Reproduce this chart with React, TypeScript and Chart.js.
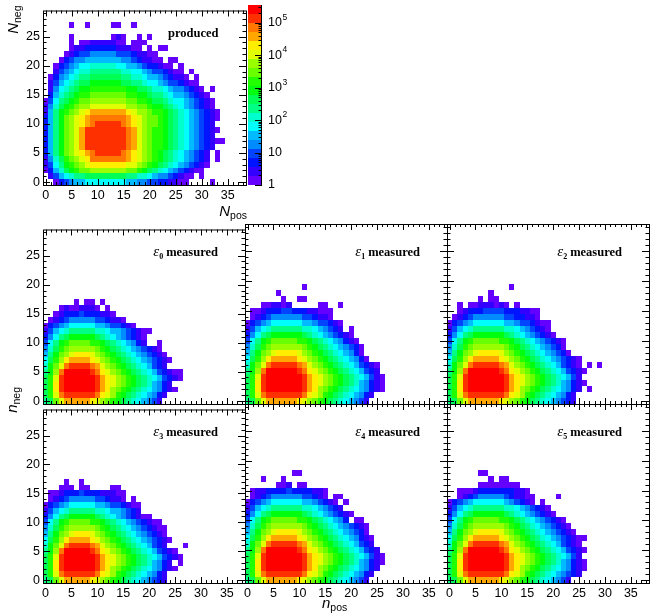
import React, { useEffect, useRef } from 'react';
import Chart from 'chart.js/auto';

// axis ticks
const xTickValues = [0, 5, 10, 15, 20, 25, 30, 35];
const yTickValues = [0, 5, 10, 15, 20, 25];
const paletteDecades = [1, 10, 100, 1000, 10000, 100000];

// top of the log colour axis (bottom is 1)
const producedZmax = 3.5e5;
const measuredZmax = 3.5e5;

// the 20 contour colours of ROOT's "pretty" palette, lowest level first
const levelColours = [
  '#6300ff', '#3300ff', '#0014ff', '#0044ff', '#008bff',
  '#00bbff', '#00fffc', '#00ffcc', '#00ff85', '#00ff55',
  '#00ff0e', '#22ff00', '#69ff00', '#99ff00', '#e0ff00',
  '#ffee00', '#ffa700', '#ff7700', '#ff3000', '#ff0000',
];
// one letter per bin = the colour level, '.' = empty bin
const levelLetters = 'abcdefghijklmnopqrst';

// rows start at N_neg = 0, characters start at N_pos = 0
const producedRows = [
  '..acdeffggggggggffeeddccbbaa....a',
  '.bdfghiijjjjjjjjiihhgfeedcbaa.a',
  'acfhjklmmnnnnnnnmmlkjihgfedcbaa',
  'bdgiklmnopppppppoonmlkjihgfedcba',
  'behjlmnoprrrrrrrqponmlkjihgfedcb.a',
  'cfikmnopqrsssssrqponmlkjihgfedcb.a',
  'cfikmnoqssssssssrqonmllkjihgfedcb',
  'cfikmnoqssssssssrqonmllkjihgfedcbaa',
  'cfikmnoqssssssssrqonmllkjihgfedcb',
  'cfikmnoqssssssssrqonmllkjihgfedcba',
  'cfikmnopqrsssssrqponmmlkjihgfedcb',
  'cfikmnopqrrrrrrrqponmmlkjihgfedcba',
  'bfiklmnopqqqqqqqponnmllkjihgfedcba',
  'behjklmnnooooooonnmmlkkjihgfedcba',
  'adgijklmmnnnnnnnmmllkjjihggfedcba',
  '.cfhijkllmmmmmmmllkkjiihgffedcba',
  '.beghijkklllllllkkjjihhgfeedcba.a',
  '.bdfghijjkkkkkkjjiihggfeddcbaa',
  '.acefghiijjjjjjiihhgffedcbba.a',
  '..bdefghhiiiiiihhggfeddcbaa.a',
  '..acdefgghhhhhggffedccbaa.a',
  '...acdeefffffffeedcbbaa.aa',
  '....abcddeeeeedddcbbaa',
  '.....abbccccccbbbaa.a.aa',
  '.....a.aabbbbbaa.aaa',
  '.....a.......aba..a.a',
  '',
  '.....a..a....aa..a',
];

const measured0Rows = [
  'ijmoqqqqqponmlkjihgfedb',
  'jlorssssssrponlkjihgfecb',
  'jlpsttttttsqpnmlkjihgfecba',
  'jlpsttttttsqponmlkjihfecb',
  'jlosttttttsqponmlkjihgfdcba',
  'iknrtttttsrponmlkjihgfdcbaa',
  'hkmorssssrqonmlkjihgfdcb',
  'gjlnpqqqqponmlkjihgfedcba',
  'fikmnoppponmlkjihgfedcba',
  'ehjlmnnnnnmlkjihgfedcba',
  'dgiklmmmmllkjihgfecb..a',
  'cegijkkkkkjihgfedcba',
  'bdfghiiiiihhgffedcbaa',
  'acdefgggggffeddcba',
  '.abcdeeeeeddcbba',
  '..abcccdcccbba',
  '...abaabbba.a',
  '......a.aa.a',
];

const measured1Rows = [
  'ijmoqqqqqqponmlkjihgfedb',
  'jlorsssssssrponlkjihgfecb',
  'jlpstttttttsqpnmlkjihgfecba',
  'jlpstttttttsqponmlkjihfecba',
  'jlostttttttsqponmlkjihgfdba',
  'iknrttttttsrponmlkjihgfdcb',
  'hkmorsssssrqonmlkjihgfdcba',
  'gjlnpqqqqqponmlkjihgfeca',
  'fikmnopppponmlkjihgfeca',
  'ehjlmnnnnnnmlkjihgfedca',
  'dgiklmmmmmllkjihgfecba',
  'cegijkkkkkkjihgfedcba',
  'bdfghiiiiiihhgfedcb.a',
  'acdefggggggffeddcba',
  '.abcdeeeeeeddcbba',
  '.aabcccddcccbbaaa',
  '...aabbab.....aa..a',
  '.......a..aa',
  '......a',
  '...........a',
];

const measured2Rows = [
  'ijmoqqqqqqponmlkjihgfedcb',
  'jlorsssssssrponlkjihgfecb',
  'jlpstttttttsqpnmlkjihgfecb.a',
  'jlpstttttttsqponmlkjihfecba',
  'jlostttttttsqponmlkjihgfdb',
  'iknrttttttsrponmlkjihgfdcba',
  'hkmorsssssrqonmlkjihgfdcba.a.a',
  'gjlnpqqqqqponmlkjihgfedcba',
  'fikmnopppponmlkjihgfedca',
  'ehjlmnnnnnnmlkjihgfedca',
  'dgiklmmmmmllkjihgfedcba',
  'cegijkkkkkkjihgfedcba',
  'bdfghiiiiiihhgfedcba',
  'acdefggggggffeddcbaa',
  '.abcdeeeeeeddccbba',
  '..abcccddddcccbbaa',
  '..a.aabbbaba.a',
  '......a.aa',
  '........a',
  '............a',
];

const measured3Rows = [
  'ijmoqqqqqponmlkjihgfedcb',
  'jlorssssssrponlkjihgfecb',
  'jlpsttttttsqpnmlkjihgfecba',
  'jlpsttttttsqponmlkjihfecb.a',
  'jlosttttttsqponmlkjihgfdcba',
  'iknrtttttsrponmlkjihgfdcba',
  'hkmorssssrqonmlkjihgfdcb...a',
  'gjlnpqqqqponmlkjihgfedcba',
  'fikmnoppponmlkjihgfedcba',
  'ehjlmnnnnnmlkjihgfedcbaa',
  'dgiklmmmmllkjihgfedcbaa',
  'cegijkkkkkjihgfedcbaa',
  'bdfghiiiiihhgffedcb',
  'acdefgggggffeddcbaa',
  '.abcdeeeeeddcbba.a',
  '.aabcccdcccbbbaa',
  '...aaa.aa....aa',
  '....a..a',
];

const measured4Rows = [
  'ijmoqqqqqqponmlkjihgfedb',
  'jlorsssssssrponlkjihgfecb',
  'jlpstttttttsqpnmlkjihgfecb',
  'jlpstttttttsqponmlkjihfecba',
  'jlostttttttsqponmlkjihgfdba',
  'iknrttttttsrponmlkjihgfdcb',
  'hkmorsssssrqonmlkjihgfdcb',
  'gjlnpqqqqqponmlkjihgfecba',
  'fikmnopppponmlkjihgfedca',
  'ehjlmnnnnnnmlkjihgfedcba',
  'dgiklmmmmmllkjihgfec.aa',
  'cegijkkkkkkjihgfedcba',
  'bdfghiiiiiihhgfedcb',
  'acdefggggggffedcba.a',
  '.abcdeeeeeeddcba.aa',
  '.abbccccdccccbba',
  '......aab.aa',
  '...a...a',
  '.........aa',
];

const measured5Rows = [
  'ijmoqqqqqqponmlkjihgfedb',
  'jlorsssssssrponlkjihgfedcb',
  'jlpstttttttsqpnmlkjihgfecba',
  'jlpstttttttsqponmlkjihfecba',
  'jlostttttttsqponmlkjihgfdb',
  'iknrttttttsrponmlkjihgfdcba',
  'hkmorsssssrqonmlkjihgfdcba',
  'gjlnpqqqqqponmlkjihgfedcbaa',
  'fikmnopppponmlkjihgfedcba',
  'ehjlmnnnnnnmlkjihgfedcba',
  'dgiklmmmmmllkjihgfedcba',
  'cegijkkkkkkjihgfedcba',
  'bdfghiiiiiihhgfedcba',
  'acdefggggggfedcba.a',
  '..abcdeeeeedcbbaa....a',
  '..aaabcccccccbba',
  '......aaaaaaaa',
  '........a.aa',
  '......aa',
];

const SANS = '"Liberation Sans", Arial, sans-serif';
const SERIF = '"Liberation Serif", "Times New Roman", serif';
const TITLE_FONT = `italic 15px ${SANS}`;
const SUB_FONT = `10.5px ${SANS}`;
const BOLD_SERIF = `bold 12.5px ${SERIF}`;
const EPS_FONT = `italic 15px ${SERIF}`;
const EPS_SUB_FONT = `bold 8px ${SERIF}`;
const TICK_FONT = { family: SANS, size: 12.5 };

type Cell = { x: number; y: number; v: number };
type Piece = { text: string; font: string; dy?: number };

function cellsFrom(rows: string[], zmax: number): Cell[] {
  const cells: Cell[] = [];
  rows.forEach((row, m) => {
    for (let n = 0; n < row.length; n++) {
      const k = levelLetters.indexOf(row[n]);
      if (k < 0) continue;
      cells.push({ x: n, y: m, v: Math.pow(zmax, (k + 0.5) / levelColours.length) });
    }
  });
  return cells;
}

function colourOf(v: number, zmax: number) {
  const n = levelColours.length;
  const k = Math.floor((n * Math.log10(v)) / Math.log10(zmax));
  return levelColours[Math.max(0, Math.min(n - 1, k))];
}

function drawPieces(ctx: CanvasRenderingContext2D, x: number, y: number, pieces: Piece[], align: 'left' | 'right') {
  let total = 0;
  for (const p of pieces) {
    ctx.font = p.font;
    total += ctx.measureText(p.text).width;
  }
  let cx = align === 'right' ? x - total : x;
  for (const p of pieces) {
    ctx.font = p.font;
    ctx.fillText(p.text, cx, y + (p.dy ?? 0));
    cx += ctx.measureText(p.text).width;
  }
}

// text reading upwards, ending at (x, yEnd), baseline at x
function drawRotated(ctx: CanvasRenderingContext2D, x: number, yEnd: number, pieces: Piece[]) {
  ctx.save();
  ctx.translate(x, yEnd);
  ctx.rotate(-Math.PI / 2);
  drawPieces(ctx, 0, 0, pieces, 'right');
  ctx.restore();
}

function drawMeasured(ctx: CanvasRenderingContext2D, frameRight: number, frameTop: number, index: number) {
  const baseline = frameTop + 31.5;
  ctx.font = BOLD_SERIF;
  const w = ctx.measureText('measured').width;
  const xm = frameRight - 27 - w;
  ctx.fillText('measured', xm, baseline);
  drawPieces(ctx, xm - 3, baseline, [
    { text: 'ε', font: EPS_FONT },
    { text: String(index), font: EPS_SUB_FONT, dy: 3 },
  ], 'right');
}

const heatPlugin = {
  id: 'heat',
  beforeDatasetsDraw(chart: any, _args: any, opts: any) {
    const { ctx, chartArea: a } = chart;
    const x = chart.scales.x;
    const y = chart.scales.y;
    ctx.save();
    ctx.beginPath();
    ctx.rect(a.left, a.top, a.right - a.left, a.bottom - a.top);
    ctx.clip();
    for (const p of chart.data.datasets[0].data as Cell[]) {
      const x0 = Math.round(x.getPixelForValue(p.x - 0.5));
      const x1 = Math.round(x.getPixelForValue(p.x + 0.5));
      const y0 = Math.round(y.getPixelForValue(p.y - 0.5));
      const y1 = Math.round(y.getPixelForValue(p.y + 0.5));
      ctx.fillStyle = colourOf(p.v, opts.zmax);
      ctx.fillRect(x0, y1, x1 - x0, y0 - y1);
    }
    ctx.restore();
  },
};

const framePlugin = {
  id: 'rootFrame',
  afterDatasetsDraw(chart: any) {
    const { ctx, chartArea: a } = chart;
    const x = chart.scales.x;
    const y = chart.scales.y;
    ctx.save();
    ctx.strokeStyle = '#000';
    ctx.lineWidth = 1;
    ctx.beginPath();
    for (let v = Math.ceil(x.min); v <= x.max; v++) {
      const px = Math.round(x.getPixelForValue(v)) + 0.5;
      const len = v % 5 === 0 ? 6 : 3;
      ctx.moveTo(px, a.bottom);
      ctx.lineTo(px, a.bottom - len);
      ctx.moveTo(px, a.top);
      ctx.lineTo(px, a.top + len);
    }
    for (let v = Math.ceil(y.min); v <= y.max; v++) {
      const py = Math.round(y.getPixelForValue(v)) + 0.5;
      const len = v % 5 === 0 ? 7 : 3.5;
      ctx.moveTo(a.left, py);
      ctx.lineTo(a.left + len, py);
      ctx.moveTo(a.right, py);
      ctx.lineTo(a.right - len, py);
    }
    ctx.stroke();
    ctx.strokeRect(a.left + 0.5, a.top + 0.5, a.right - a.left, a.bottom - a.top);
    ctx.restore();
  },
};

const LEFT = 43;
const TOP = 5;
const RIGHT = 8;
const BOTTOM = 38;

interface PanelProps {
  rows: string[];
  zmax: number;
  left: number;
  top: number;
  width: number;
  height: number;
  xLabels: boolean;
  yLabels: boolean;
  texts: (ctx: CanvasRenderingContext2D) => void;
}

function Panel(props: PanelProps) {
  const ref = useRef<HTMLCanvasElement>(null);
  const canvasLeft = props.left - LEFT;
  const canvasTop = props.top - TOP;
  const w = props.width + LEFT + RIGHT;
  const h = props.height + TOP + BOTTOM;

  useEffect(() => {
    if (!ref.current) return;
    const textPlugin = {
      id: 'panelTexts',
      afterDraw(chart: any) {
        const ctx = chart.ctx as CanvasRenderingContext2D;
        ctx.save();
        ctx.translate(-canvasLeft, -canvasTop);
        ctx.fillStyle = '#000';
        ctx.textAlign = 'left';
        ctx.textBaseline = 'alphabetic';
        props.texts(ctx);
        ctx.restore();
      },
    };
    const chart = new Chart(ref.current, {
      type: 'scatter',
      data: { datasets: [{ data: cellsFrom(props.rows, props.zmax), pointRadius: 0 }] },
      options: {
        animation: false,
        responsive: false,
        events: [],
        layout: { padding: { left: 0, top: TOP, right: RIGHT, bottom: 0 } },
        plugins: {
          legend: { display: false },
          tooltip: { enabled: false },
          heat: { zmax: props.zmax },
        } as any,
        scales: {
          x: {
            type: 'linear',
            position: 'bottom',
            min: -0.5,
            max: 38.5,
            grid: { display: false, drawTicks: false },
            border: { display: false },
            ticks: { display: props.xLabels, font: TICK_FONT, color: '#000', padding: 3, autoSkip: false, maxRotation: 0 },
            afterBuildTicks: (s: any) => { s.ticks = xTickValues.map((value) => ({ value })); },
            afterFit: (s: any) => { s.height = BOTTOM; },
          },
          y: {
            type: 'linear',
            position: 'left',
            min: -0.5,
            max: 29.5,
            grid: { display: false, drawTicks: false },
            border: { display: false },
            ticks: { display: props.yLabels, font: TICK_FONT, color: '#000', padding: 3, autoSkip: false },
            afterBuildTicks: (s: any) => { s.ticks = yTickValues.map((value) => ({ value })); },
            afterFit: (s: any) => { s.width = LEFT; },
          },
        },
      },
      plugins: [heatPlugin, framePlugin, textPlugin],
    });
    return () => chart.destroy();
  }, []);

  return (
    <canvas
      ref={ref}
      width={w}
      height={h}
      style={{ position: 'absolute', left: canvasLeft, top: canvasTop, width: w, height: h }}
    />
  );
}

function Palette({ zmax }: { zmax: number }) {
  const ref = useRef<HTMLCanvasElement>(null);
  const canvasLeft = 240;
  const w = 70;
  const h = 223;

  useEffect(() => {
    if (!ref.current) return;
    const barPlugin = {
      id: 'paletteBar',
      afterDraw(chart: any) {
        const { ctx, chartArea: a } = chart;
        const y = chart.scales.y;
        const n = levelColours.length;
        ctx.save();
        levelColours.forEach((c, k) => {
          const y0 = Math.round(y.getPixelForValue(Math.pow(zmax, k / n)));
          const y1 = Math.round(y.getPixelForValue(Math.pow(zmax, (k + 1) / n)));
          ctx.fillStyle = c;
          ctx.fillRect(a.left, y1, a.right - a.left, y0 - y1);
        });
        ctx.strokeStyle = '#000';
        ctx.lineWidth = 1;
        ctx.beginPath();
        ctx.moveTo(a.right - 0.5, a.top);
        ctx.lineTo(a.right - 0.5, a.bottom);
        for (const d of paletteDecades) {
          for (let f = 1; f <= 9; f++) {
            const v = d * f;
            if (v > zmax) break;
            const py = Math.round(y.getPixelForValue(v)) + 0.5;
            const len = f === 1 ? 7 : 3.5;
            ctx.moveTo(a.right, py);
            ctx.lineTo(a.right - len, py);
          }
        }
        ctx.stroke();
        ctx.fillStyle = '#000';
        ctx.textAlign = 'left';
        ctx.textBaseline = 'middle';
        const lx = a.right + 6;
        for (const d of paletteDecades) {
          const py = y.getPixelForValue(d);
          const e = Math.round(Math.log10(d));
          ctx.font = `12.5px ${SANS}`;
          if (e === 0) {
            ctx.fillText('1', lx, py);
          } else {
            ctx.fillText('10', lx, py);
            if (e > 1) {
              const w10 = ctx.measureText('10').width;
              ctx.font = `8.5px ${SANS}`;
              ctx.fillText(String(e), lx + w10 + 0.5, py - 5);
            }
          }
        }
        ctx.restore();
      },
    };
    const chart = new Chart(ref.current, {
      type: 'scatter',
      data: { datasets: [] },
      options: {
        animation: false,
        responsive: false,
        events: [],
        layout: { padding: { left: 248 - canvasLeft, top: TOP, right: 0, bottom: h - 185 } },
        plugins: { legend: { display: false }, tooltip: { enabled: false } },
        scales: {
          x: { display: false, min: 0, max: 1 },
          y: {
            type: 'logarithmic',
            position: 'right',
            min: 1,
            max: zmax,
            grid: { display: false, drawTicks: false },
            border: { display: false },
            ticks: { display: false },
            afterFit: (s: any) => { s.width = canvasLeft + w - 262; },
          },
        },
      },
      plugins: [barPlugin],
    });
    return () => chart.destroy();
  }, []);

  return (
    <canvas
      ref={ref}
      width={w}
      height={h}
      style={{ position: 'absolute', left: canvasLeft, top: 0, width: w, height: h }}
    />
  );
}

const columnLefts = [43, 245, 447];
const rowTops = [224, 404];
const rowHeights = [180, 179];
const measuredSets = [measured0Rows, measured1Rows, measured2Rows, measured3Rows, measured4Rows, measured5Rows];

export default function App() {
  return (
    <div style={{ position: 'absolute', left: 0, top: 0, width: 664, height: 616, overflow: 'hidden', background: '#fff' }}>
      <Panel
        rows={producedRows}
        zmax={producedZmax}
        left={43}
        top={5}
        width={203}
        height={180}
        xLabels
        yLabels
        texts={(ctx) => {
          drawRotated(ctx, 18, 5.5, [
            { text: 'N', font: TITLE_FONT },
            { text: 'neg', font: SUB_FONT, dy: 2.5 },
          ]);
          drawPieces(ctx, 247, 216, [
            { text: 'N', font: TITLE_FONT },
            { text: 'pos', font: SUB_FONT, dy: 2.5 },
          ], 'right');
          ctx.font = BOLD_SERIF;
          ctx.fillText('produced', 168, 37);
        }}
      />
      <Palette zmax={producedZmax} />
      {measuredSets.map((rows, i) => {
        const col = i % 3;
        const row = Math.floor(i / 3);
        const left = columnLefts[col];
        const top = rowTops[row];
        return (
          <Panel
            key={i}
            rows={rows}
            zmax={measuredZmax}
            left={left}
            top={top}
            width={202}
            height={rowHeights[row]}
            xLabels={row === 1}
            yLabels={col === 0}
            texts={(ctx) => {
              drawMeasured(ctx, left + 202, top, i);
              if (i === 0) {
                drawRotated(ctx, 17, 387, [
                  { text: 'n', font: TITLE_FONT },
                  { text: 'neg', font: SUB_FONT, dy: 2.5 },
                ]);
              }
              if (i === 4) {
                drawPieces(ctx, 322, 608, [
                  { text: 'n', font: TITLE_FONT },
                  { text: 'pos', font: SUB_FONT, dy: 2.5 },
                ], 'left');
              }
            }}
          />
        );
      })}
    </div>
  );
}
